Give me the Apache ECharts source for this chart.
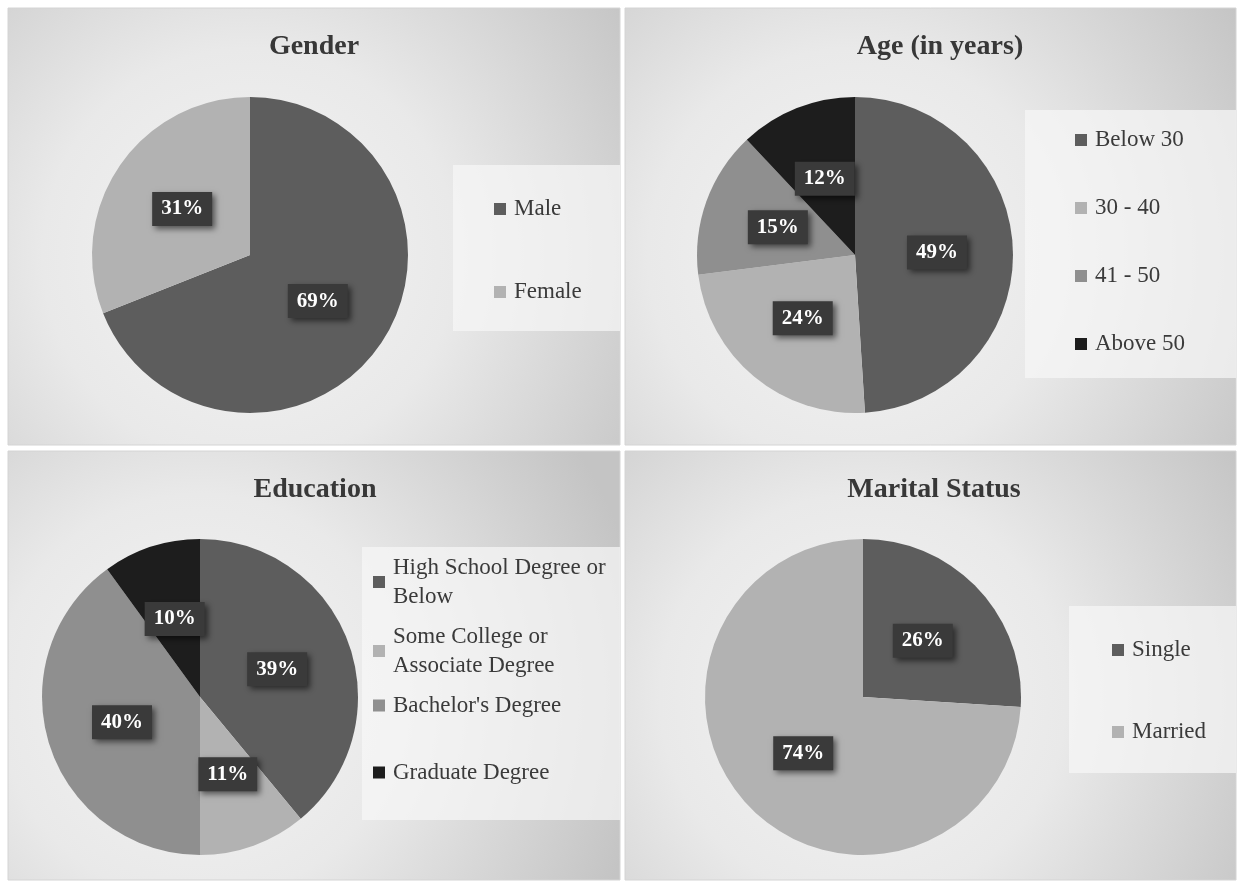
<!DOCTYPE html>
<html>
<head>
<meta charset="UTF-8">
<title>Respondent profile</title>
<script src="https://cdn.jsdelivr.net/npm/echarts@6/dist/echarts.min.js"></script>
<style>
    html, body { margin: 0; padding: 0; background: #fff; }
    #main { width: 1242px; height: 882px; }
</style>
</head>
<body>
<div id="main"></div>
<script>
    // data
    var genderNames = ['Male', 'Female'];
    var genderValues = [69, 31];
    var ageNames = ['Below 30', '30 - 40', '41 - 50', 'Above 50'];
    var ageValues = [49, 24, 15, 12];
    var eduNames = ['High School Degree or Below', 'Some College or Associate Degree', "Bachelor's Degree", 'Graduate Degree'];
    var eduLegendText = ['High School Degree or\nBelow', 'Some College or\nAssociate Degree', "Bachelor's Degree", 'Graduate Degree'];
    var eduValues = [39, 11, 40, 10];
    var maritalNames = ['Single', 'Married'];
    var maritalValues = [26, 74];

    var greys = ['#5d5d5d', '#b2b2b2', '#8f8f8f', '#1d1d1d'];
    var serif = '"Liberation Serif", "Times New Roman", serif';

    var myChart = echarts.init(document.getElementById('main'));

    // panel backgrounds + legend boxes
    function panel(x, y, w, h, cx, cy) {
        return {
            type: 'rect', z: -10, silent: true,
            shape: {x: x, y: y, width: w, height: h},
            style: {
                fill: {
                    type: 'radial', x: cx, y: cy, r: 1.05,
                    colorStops: [
                        {offset: 0, color: '#f4f4f4'},
                        {offset: 0.45, color: '#e9e9e9'},
                        {offset: 1, color: '#c4c4c4'}
                    ]
                },
                stroke: '#d4d4d4', lineWidth: 1
            }
        };
    }
    function legendBox(x, y, w, h) {
        return {
            type: 'rect', z: -5, silent: true,
            shape: {x: x, y: y, width: w, height: h},
            style: {fill: 'rgba(246,246,246,0.72)'}
        };
    }

    function pieSeries(name, names, values, center) {
        return {
            name: name,
            type: 'pie',
            center: center,
            radius: 158,
            startAngle: 90,
            clockwise: true,
            avoidLabelOverlap: false,
            emphasis: {disabled: true},
            itemStyle: {borderWidth: 0},
            labelLine: {show: false},
            label: {
                show: true,
                position: 'inside',
                formatter: function (p) { return p.value + '%'; },
                color: '#fff',
                fontFamily: serif,
                fontWeight: 'bold',
                fontSize: 21,
                backgroundColor: '#3a3a3a',
                padding: [7, 9, 6, 9],
                shadowColor: 'rgba(0,0,0,0.55)',
                shadowBlur: 6,
                shadowOffsetX: 3,
                shadowOffsetY: 3
            },
            data: names.map(function (n, i) {
                return {name: n, value: values[i], itemStyle: {color: greys[i]}};
            })
        };
    }

    function legend(names, left, top, gap, lh, formatter) {
        return {
            orient: 'vertical',
            left: left,
            top: top,
            padding: 0,
            itemGap: gap,
            itemWidth: 12,
            itemHeight: 12,
            icon: 'rect',
            selectedMode: false,
            data: names,
            formatter: formatter,
            textStyle: {
                fontFamily: serif,
                fontSize: 23,
                lineHeight: lh,
                color: '#3a3a3a',
                padding: [0, 0, 0, 3]
            }
        };
    }

    function title(text, left, top) {
        return {
            text: text,
            left: left,
            top: top,
            textAlign: 'center',
            padding: 0,
            textStyle: {fontFamily: serif, fontWeight: 'bold', fontSize: 28, color: '#383838'}
        };
    }

    var eduFormatter = function (name) {
        return eduLegendText[eduNames.indexOf(name)];
    };

    var option = {
        animation: false,
        graphic: {
            elements: [
                panel(8, 8, 612, 437, 0.395, 0.565),
                panel(625, 8, 611, 437, 0.376, 0.565),
                panel(8, 451, 612, 429, 0.314, 0.573),
                panel(625, 451, 611, 429, 0.39, 0.573),
                legendBox(453, 165, 167, 166),
                legendBox(1025, 110, 211, 268),
                legendBox(362, 547, 258, 273),
                legendBox(1069, 606, 167, 167)
            ]
        },
        title: [
            title('Gender', 314, 33),
            title('Age (in years)', 940, 33),
            title('Education', 315, 476),
            title('Marital Status', 934, 476)
        ],
        legend: [
            legend(genderNames, 494, 196, 57, 26),
            legend(ageNames, 1075, 127, 42, 26),
            legend(eduNames.slice(0, 3), 373, 553, 11, 29, eduFormatter),
            legend(eduNames.slice(3), 373, 758, 11, 29, eduFormatter),
            legend(maritalNames, 1112, 637, 56, 26)
        ],
        series: [
            pieSeries('Gender', genderNames, genderValues, [250, 255]),
            pieSeries('Age', ageNames, ageValues, [855, 255]),
            pieSeries('Education', eduNames, eduValues, [200, 697]),
            pieSeries('Marital Status', maritalNames, maritalValues, [863, 697])
        ]
    };
    myChart.setOption(option);
</script>
</body>
</html>
